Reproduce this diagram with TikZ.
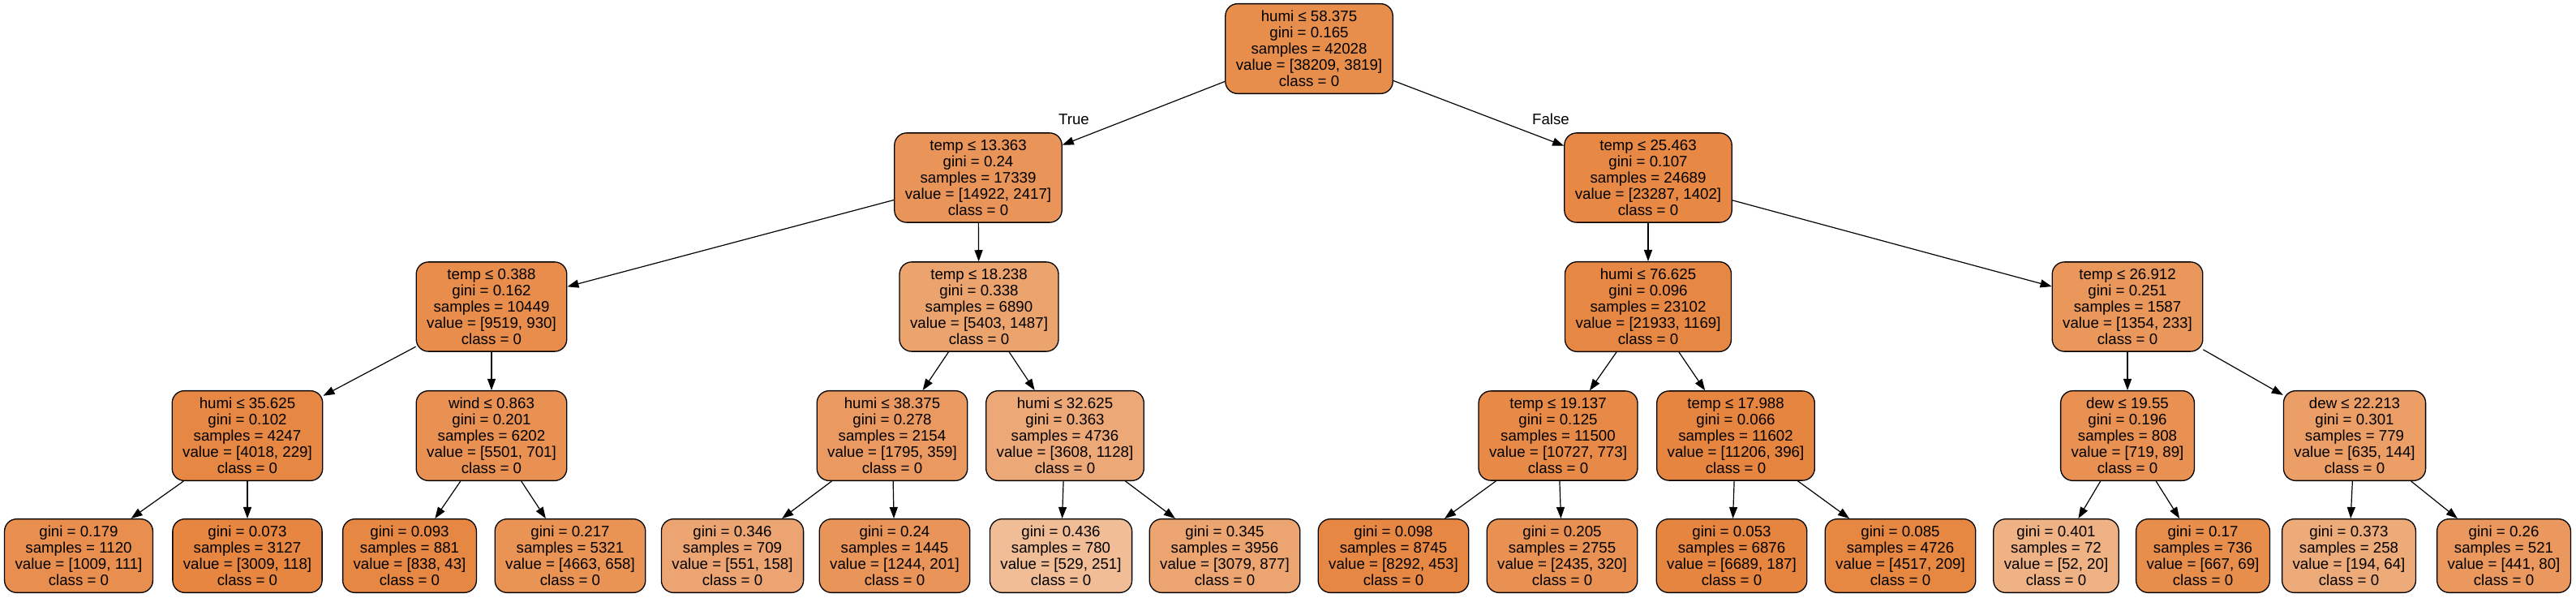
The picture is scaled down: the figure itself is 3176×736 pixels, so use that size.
\documentclass[tikz,border=0pt]{standalone}
\usepackage{fontspec}
\setmainfont{Liberation Sans}
\usetikzlibrary{arrows.meta}
\definecolor{treeorange}{RGB}{229,129,57}

\begin{document}
\begin{tikzpicture}[x=1pt, y=-1pt,
  treenode/.style={draw=black, line width=1.3pt, rounded corners=15pt, align=center, inner xsep=13pt, inner ysep=8.5pt, font=\fontsize{18.7}{20}\selectfont},
  edge/.style={line width=1.2pt, -{Triangle[length=14pt,width=10pt]}},
  edgelabel/.style={font=\fontsize{18.7}{20}\selectfont}]
\useasboundingbox (0,0) rectangle (3176,736);
\node[treenode, fill=treeorange!90!white] (root) at (1614,60) {humi ≤ 58.375\\gini = 0.165\\samples = 42028\\value = [38209, 3819]\\class = 0};
\node[treenode, fill=treeorange!83.8!white] (l) at (1206,219) {temp ≤ 13.363\\gini = 0.24\\samples = 17339\\value = [14922, 2417]\\class = 0};
\node[treenode, fill=treeorange!94!white] (r) at (2032,219) {temp ≤ 25.463\\gini = 0.107\\samples = 24689\\value = [23287, 1402]\\class = 0};
\node[treenode, fill=treeorange!90.2!white] (ll) at (606,378) {temp ≤ 0.388\\gini = 0.162\\samples = 10449\\value = [9519, 930]\\class = 0};
\node[treenode, fill=treeorange!72.5!white] (lr) at (1207,378) {temp ≤ 18.238\\gini = 0.338\\samples = 6890\\value = [5403, 1487]\\class = 0};
\node[treenode, fill=treeorange!94.7!white] (rl) at (2032,378) {humi ≤ 76.625\\gini = 0.096\\samples = 23102\\value = [21933, 1169]\\class = 0};
\node[treenode, fill=treeorange!82.8!white] (rr) at (2623,378) {temp ≤ 26.912\\gini = 0.251\\samples = 1587\\value = [1354, 233]\\class = 0};
\node[treenode, fill=treeorange!94.3!white] (lll) at (305,537) {humi ≤ 35.625\\gini = 0.102\\samples = 4247\\value = [4018, 229]\\class = 0};
\node[treenode, fill=treeorange!87.3!white] (llr) at (606,537) {wind ≤ 0.863\\gini = 0.201\\samples = 6202\\value = [5501, 701]\\class = 0};
\node[treenode, fill=treeorange!80!white] (lrl) at (1100,537) {humi ≤ 38.375\\gini = 0.278\\samples = 2154\\value = [1795, 359]\\class = 0};
\node[treenode, fill=treeorange!68.7!white] (lrr) at (1313,537) {humi ≤ 32.625\\gini = 0.363\\samples = 4736\\value = [3608, 1128]\\class = 0};
\node[treenode, fill=treeorange!92.8!white] (rll) at (1921,537) {temp ≤ 19.137\\gini = 0.125\\samples = 11500\\value = [10727, 773]\\class = 0};
\node[treenode, fill=treeorange!96.5!white] (rlr) at (2140,537) {temp ≤ 17.988\\gini = 0.066\\samples = 11602\\value = [11206, 396]\\class = 0};
\node[treenode, fill=treeorange!87.6!white] (rrl) at (2623,537) {dew ≤ 19.55\\gini = 0.196\\samples = 808\\value = [719, 89]\\class = 0};
\node[treenode, fill=treeorange!77.3!white] (rrr) at (2903,537) {dew ≤ 22.213\\gini = 0.301\\samples = 779\\value = [635, 144]\\class = 0};
\node[treenode, fill=treeorange!89!white] (llll) at (97,685) {gini = 0.179\\samples = 1120\\value = [1009, 111]\\class = 0};
\node[treenode, fill=treeorange!96.1!white] (lllr) at (305,685) {gini = 0.073\\samples = 3127\\value = [3009, 118]\\class = 0};
\node[treenode, fill=treeorange!94.9!white] (llrl) at (505,685) {gini = 0.093\\samples = 881\\value = [838, 43]\\class = 0};
\node[treenode, fill=treeorange!85.9!white] (llrr) at (703,685) {gini = 0.217\\samples = 5321\\value = [4663, 658]\\class = 0};
\node[treenode, fill=treeorange!71.3!white] (lrll) at (903,685) {gini = 0.346\\samples = 709\\value = [551, 158]\\class = 0};
\node[treenode, fill=treeorange!83.8!white] (lrlr) at (1103,685) {gini = 0.24\\samples = 1445\\value = [1244, 201]\\class = 0};
\node[treenode, fill=treeorange!52.6!white] (lrrl) at (1308,685) {gini = 0.436\\samples = 780\\value = [529, 251]\\class = 0};
\node[treenode, fill=treeorange!71.5!white] (lrrr) at (1510,685) {gini = 0.345\\samples = 3956\\value = [3079, 877]\\class = 0};
\node[treenode, fill=treeorange!94.5!white] (rlll) at (1718,685) {gini = 0.098\\samples = 8745\\value = [8292, 453]\\class = 0};
\node[treenode, fill=treeorange!86.9!white] (rllr) at (1926,685) {gini = 0.205\\samples = 2755\\value = [2435, 320]\\class = 0};
\node[treenode, fill=treeorange!97.2!white] (rlrl) at (2135,685) {gini = 0.053\\samples = 6876\\value = [6689, 187]\\class = 0};
\node[treenode, fill=treeorange!95.4!white] (rlrr) at (2343,685) {gini = 0.085\\samples = 4726\\value = [4517, 209]\\class = 0};
\node[treenode, fill=treeorange!61.5!white] (rrll) at (2535,685) {gini = 0.401\\samples = 72\\value = [52, 20]\\class = 0};
\node[treenode, fill=treeorange!89.7!white] (rrlr) at (2716,685) {gini = 0.17\\samples = 736\\value = [667, 69]\\class = 0};
\node[treenode, fill=treeorange!67!white] (rrrl) at (2896,685) {gini = 0.373\\samples = 258\\value = [194, 64]\\class = 0};
\node[treenode, fill=treeorange!81.9!white] (rrrr) at (3087,685) {gini = 0.26\\samples = 521\\value = [441, 80]\\class = 0};
\draw[edge] (root) -- (l);
\draw[edge] (root) -- (r);
\draw[edge] (l) -- (ll);
\draw[edge] (l) -- (lr);
\draw[edge] (r) -- (rl);
\draw[edge] (r) -- (rr);
\draw[edge] (ll) -- (lll);
\draw[edge] (ll) -- (llr);
\draw[edge] (lr) -- (lrl);
\draw[edge] (lr) -- (lrr);
\draw[edge] (rl) -- (rll);
\draw[edge] (rl) -- (rlr);
\draw[edge] (rr) -- (rrl);
\draw[edge] (rr) -- (rrr);
\draw[edge] (lll) -- (llll);
\draw[edge] (lll) -- (lllr);
\draw[edge] (llr) -- (llrl);
\draw[edge] (llr) -- (llrr);
\draw[edge] (lrl) -- (lrll);
\draw[edge] (lrl) -- (lrlr);
\draw[edge] (lrr) -- (lrrl);
\draw[edge] (lrr) -- (lrrr);
\draw[edge] (rll) -- (rlll);
\draw[edge] (rll) -- (rllr);
\draw[edge] (rlr) -- (rlrl);
\draw[edge] (rlr) -- (rlrr);
\draw[edge] (rrl) -- (rrll);
\draw[edge] (rrl) -- (rrlr);
\draw[edge] (rrr) -- (rrrl);
\draw[edge] (rrr) -- (rrrr);
\node[edgelabel] (truelbl) at (1324,147) {True};
\node[edgelabel] (falselbl) at (1912,147) {False};
\end{tikzpicture}
\end{document}
